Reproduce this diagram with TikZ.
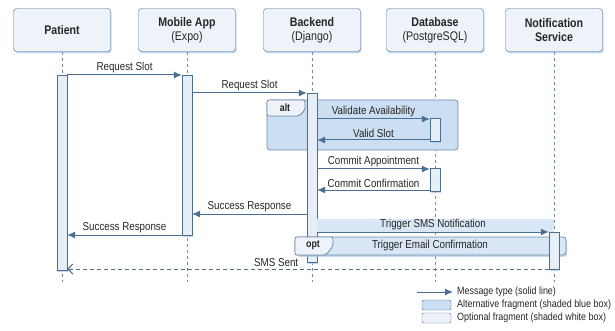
\documentclass[tikz,border=0pt]{standalone}
\usepackage{fontspec}
\setmainfont[FakeStretch=0.85]{Liberation Sans}
\usetikzlibrary{arrows.meta,shadows}

\definecolor{seqline}{HTML}{4A6F93}
\definecolor{headfill}{HTML}{EEF3FA}
\definecolor{barfill}{HTML}{E6EEF8}
\definecolor{altfill}{HTML}{CCDEF1}
\definecolor{optfill}{HTML}{D8E6F5}
\definecolor{glow}{HTML}{A9C8EA}

\begin{document}
\begin{tikzpicture}[x=1pt,y=-1pt,
    every node/.style={text=black!85},
    soft/.style={drop shadow={shadow xshift=1.2pt,shadow yshift=-1.8pt,fill=glow,opacity=.7}},
    head/.style={draw=seqline,fill=headfill,rounded corners=3pt,soft,
      minimum width=97pt,minimum height=43pt,align=center,
      font=\fontsize{12.5}{14}\selectfont},
    life/.style={draw=seqline!80,dash pattern=on 3pt off 3pt,line width=.7pt},
    bar/.style={draw=seqline,fill=barfill,minimum width=10pt,inner sep=0pt,soft},
    msg/.style={draw=seqline,line width=1pt,-{Latex[length=8pt,width=7pt]}},
    ret/.style={draw=seqline,line width=1pt,dash pattern=on 4pt off 3pt,
      -{Straight Barb[length=5pt,width=10pt]}},
    lbl/.style={above,inner sep=2pt,font=\fontsize{11.5}{13}\selectfont},
    frag/.style={draw=seqline!80,rounded corners=3pt,line width=.8pt},
    tab/.style={font=\bfseries\fontsize{10.5}{12}\selectfont},
    legtext/.style={anchor=west,inner sep=0pt,font=\fontsize{10.5}{12}\selectfont},
    legbox/.style={draw=seqline,rounded corners=2pt,minimum width=29pt,minimum height=10pt,inner sep=0pt}
  ]
  \useasboundingbox (0,0) rectangle (615,331);

  % participants
  \node[head] (patient) at (62,30) {\textbf{Patient}};
  \node[head] (app) at (187,30) {\textbf{Mobile App}\\(Expo)};
  \node[head] (backend) at (312,30) {\textbf{Backend}\\(Django)};
  \node[head] (db) at (435,30) {\textbf{Database}\\(PostgreSQL)};
  \node[head] (notify) at (554,30) {\textbf{Notification}\\\textbf{Service}};

  % lifelines
  \draw[life] (patient.south) -- (patient.south |- 0,282);
  \draw[life] (app.south) -- (app.south |- 0,282);
  \draw[life] (backend.south) -- (backend.south |- 0,282);
  \draw[life] (db.south) -- (db.south |- 0,282);
  \draw[life] (notify.south) -- (notify.south |- 0,282);

  % alt fragment
  \draw[frag,fill=altfill] (267,100) rectangle (458,150);
  \draw[draw=seqline!80,fill=headfill,line width=.8pt,rounded corners=2pt]
    (267,116) -- (267,100) -- (305,100) -- (305,110) -- (299,116) -- cycle;
  \node[tab] (alttab) at (285,108) {alt};

  % activation bars
  \node[bar,minimum height=195pt] (pbar) at (62,172.5) {};
  \node[bar,minimum height=160pt] (abar) at (187,155) {};
  \node[bar,minimum height=169pt] (bbar) at (312,177.5) {};
  \node[bar,minimum height=23pt] (dbar1) at (435,129.5) {};
  \node[bar,minimum height=23pt] (dbar2) at (435,179.5) {};

  % opt fragment
  \fill[optfill] (317,219) rectangle (554,232);
  \draw[frag,fill=optfill,soft] (295,237) rectangle (566,255);
  \draw[draw=seqline!80,fill=headfill,line width=.8pt,rounded corners=2pt]
    (295,255) -- (295,237) -- (333,237) -- (333,246) -- (326,255) -- cycle;
  \node[tab] (opttab) at (313,245.5) {opt};
  \node[font=\fontsize{11.5}{13}\selectfont] (email) at (430,246) {Trigger Email Confirmation};
  \node[bar,minimum height=37pt] (nbar) at (554,251) {};

  % messages
  \draw[msg] (pbar.east |- 0,75) -- node[lbl]{Request Slot} (abar.west |- 0,75);
  \draw[msg] (abar.east |- 0,93) -- node[lbl]{Request Slot} (bbar.west |- 0,93);
  \draw[msg] (bbar.east |- 0,119) -- node[lbl]{Validate Availability} (dbar1.west |- 0,119);
  \draw[msg] (dbar1.west |- 0,140) -- node[lbl]{Valid Slot} (bbar.east |- 0,140);
  \draw[msg] (bbar.east |- 0,169) -- node[lbl]{Commit Appointment} (dbar2.west |- 0,169);
  \draw[msg] (dbar2.west |- 0,190) -- node[lbl]{Commit Confirmation} (bbar.east |- 0,190);
  \draw[msg] (bbar.west |- 0,214) -- node[lbl]{Success Response} (abar.east |- 0,214);
  \draw[msg] (abar.west |- 0,235) -- node[lbl]{Success Response} (pbar.east |- 0,235);
  \draw[msg] (bbar.east |- 0,232) -- node[lbl]{Trigger SMS Notification} (nbar.west |- 0,232);
  \draw[ret] (nbar.west |- 0,269) -- node[lbl,pos=.566]{SMS Sent} (pbar.east |- 0,269);

  % legend
  \node[legtext] (legmsg) at (457,292) {Message type (solid line)};
  \coordinate (legstart) at (417,292);
  \draw[msg] (legstart) -- ([xshift=-4pt]legmsg.west);
  \node[legbox,fill=altfill] (legalt) at (436.5,305) {};
  \node[legtext] (legalttext) at (457,305) {Alternative fragment (shaded blue box)};
  \node[legbox,fill=headfill] (legopt) at (436.5,318) {};
  \node[legtext] (legopttext) at (457,318) {Optional fragment (shaded white box)};
\end{tikzpicture}
\end{document}
